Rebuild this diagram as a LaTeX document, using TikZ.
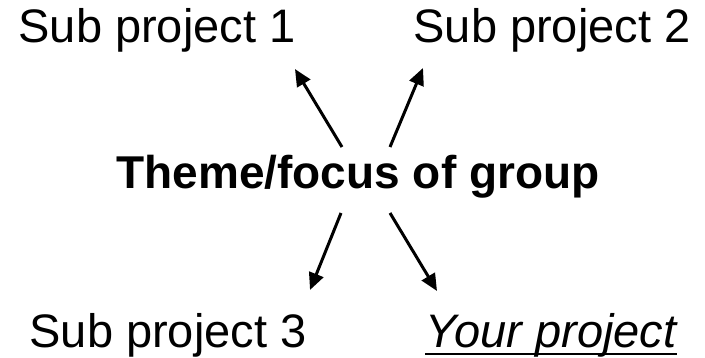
\documentclass[tikz,border=0pt]{standalone}
\usepackage{fontspec}
\setmainfont{Liberation Sans}
\usetikzlibrary{arrows.meta}
\begin{document}
\begin{tikzpicture}[x=1pt,y=-1pt,
    label/.style={inner sep=0pt, anchor=base, font=\fontsize{47}{52}\selectfont},
    pointer/.style={line width=3pt, -{Triangle[length=17pt,width=15pt]}}]
        \useasboundingbox (0,0) rectangle (705,358);

        % Theme
        \node[label, font=\fontsize{46}{52}\selectfont\bfseries] (theme) at (358,189) {Theme/focus of group};

        % Sub projects
        \node[label] (sub1) at (157,43) {Sub project 1};
        \node[label] (sub2) at (552,43) {Sub project 2};
        \node[label] (sub3) at (168,348) {Sub project 3};
        \node[label, font=\fontsize{47}{52}\selectfont\itshape] (own) at (551,348) {Your project};
        \draw[line width=2.5pt] ([yshift=-6pt]own.base west) -- ([yshift=-6pt]own.base east);

        % Arrow ends
        \coordinate (t1) at (342,147);
        \coordinate (t2) at (390,147);
        \coordinate (t3) at (341,213);
        \coordinate (t4) at (390,213);
        \coordinate (h1) at (295,69);
        \coordinate (h2) at (423,68);
        \coordinate (h3) at (310,290);
        \coordinate (h4) at (437,291);

        % Arrows
        \draw[pointer] (t1) -- (h1);
        \draw[pointer] (t2) -- (h2);
        \draw[pointer] (t3) -- (h3);
        \draw[pointer] (t4) -- (h4);
    \end{tikzpicture}
\end{document}
